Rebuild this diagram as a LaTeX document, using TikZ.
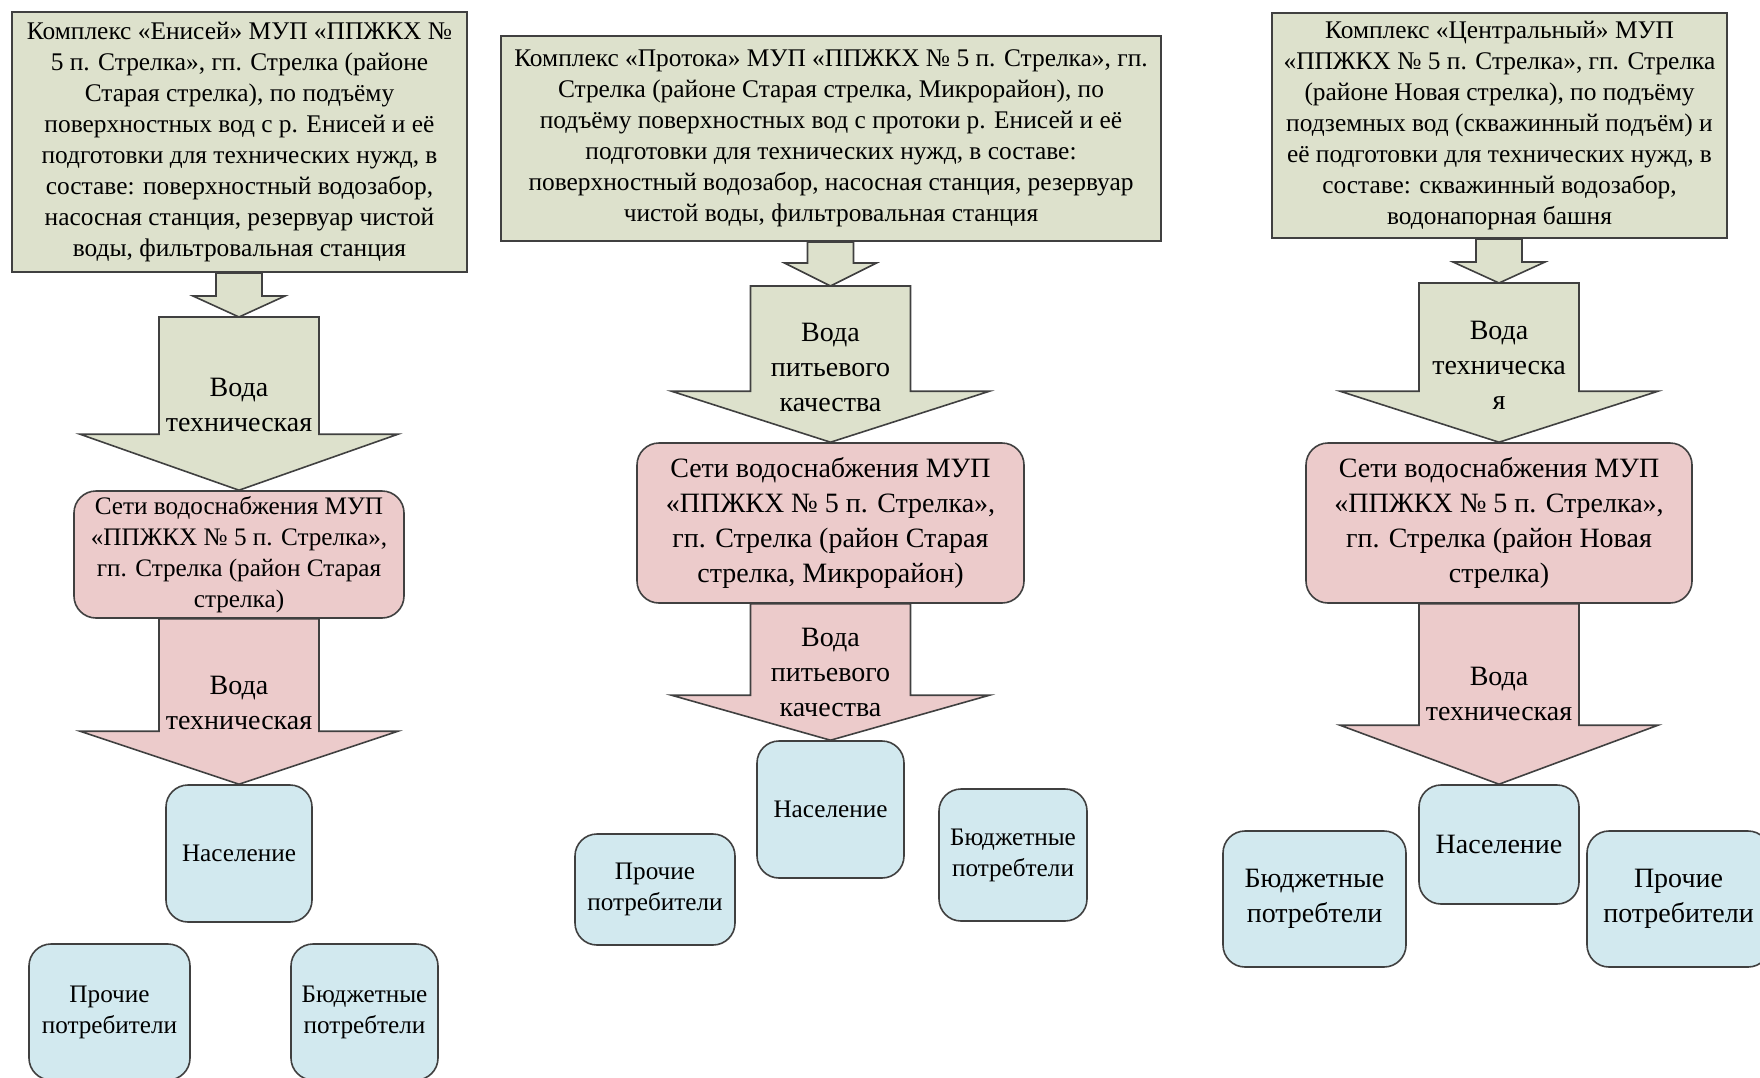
\documentclass[tikz,border=0pt]{standalone}
\usepackage{fontspec}
\setmainfont{Liberation Serif}
\usetikzlibrary{calc}
\definecolor{srcfill}{RGB}{221,225,204}
\definecolor{netfill}{RGB}{236,203,203}
\definecolor{userfill}{RGB}{210,233,239}
\definecolor{edge}{RGB}{64,64,64}
\tikzstyle{srcbox}=[rectangle,draw=edge,fill=srcfill,line width=1pt,inner sep=0pt,align=center,font=\fontsize{12.7}{15.5}\selectfont]
\tikzstyle{netbox}=[rectangle,rounded corners=11pt,draw=edge,fill=netfill,line width=0.8pt,inner sep=0pt,align=center]
\tikzstyle{userbox}=[rectangle,rounded corners=11pt,draw=edge,fill=userfill,line width=0.8pt,inner sep=0pt,align=center]
\tikzstyle{greenarrow}=[draw=edge,fill=srcfill,line width=0.8pt,line join=miter]
\tikzstyle{pinkarrow}=[draw=edge,fill=netfill,line width=0.8pt,line join=miter]
\tikzstyle{flowtext}=[align=center,inner sep=0pt,font=\fontsize{14}{17.5}\selectfont]
\tikzstyle{smalltext}=[font=\fontsize{12.6}{15.5}\selectfont]
\tikzstyle{bigtext}=[font=\fontsize{14}{17.5}\selectfont]
% block arrow: style, from, to, half shaft, half head, head length
\newcommand{\blockarrow}[6]{%
  \filldraw[#1] let \p1=(#2), \p2=(#3) in
    (\x2-#4,\y1) -- (\x2+#4,\y1) -- (\x2+#4,\y2+#6) -- (\x2+#5,\y2+#6)
    -- (\x2,\y2) -- (\x2-#5,\y2+#6) -- (\x2-#4,\y2+#6) -- cycle;}

\begin{document}
\begin{tikzpicture}[x=0.5pt,y=-0.5pt]
    \useasboundingbox (0,0) rectangle (1760,1077);
    % sources
    \node[srcbox,minimum width=227.5pt,minimum height=130pt] at (239.5,142) (src1) {Комплекс «Енисей» МУП «ППЖКХ №\\5 п. Стрелка», гп. Стрелка (районе\\Старая стрелка), по подъёму\\поверхностных вод с р. Енисей и её\\подготовки для технических нужд, в\\составе: поверхностный водозабор,\\насосная станция, резервуар чистой\\воды, фильтровальная станция};
    \node[srcbox,minimum width=330pt,minimum height=102.5pt] at (831,138.5) (src2) {Комплекс «Протока» МУП «ППЖКХ № 5 п. Стрелка», гп.\\Стрелка (районе Старая стрелка, Микрорайон), по\\подъёму поверхностных вод с протоки р. Енисей и её\\подготовки для технических нужд, в составе:\\поверхностный водозабор, насосная станция, резервуар\\чистой воды, фильтровальная станция};
    \node[srcbox,minimum width=227.5pt,minimum height=112.5pt] at (1499.5,125.5) (src3) {Комплекс «Центральный» МУП\\«ППЖКХ № 5 п. Стрелка», гп. Стрелка\\(районе Новая стрелка), по подъёму\\подземных вод (скважинный подъём) и\\её подготовки для технических нужд, в\\составе: скважинный водозабор,\\водонапорная башня};
    \coordinate (j1) at (239,317);
    \coordinate (j2) at (830.5,286);
    \coordinate (j3) at (1499,283);
    % networks
    \node[netbox,smalltext,minimum width=165pt,minimum height=63.5pt] at (239,554.5) (net1) {Сети водоснабжения МУП\\«ППЖКХ № 5 п. Стрелка»,\\гп. Стрелка (район Старая\\стрелка)};
    \node[netbox,bigtext,minimum width=193.5pt,minimum height=80pt] at (830.5,523) (net2) {Сети водоснабжения МУП\\«ППЖКХ № 5 п. Стрелка»,\\гп. Стрелка (район Старая\\стрелка, Микрорайон)};
    \node[netbox,bigtext,minimum width=193pt,minimum height=80pt] at (1499,523) (net3) {Сети водоснабжения МУП\\«ППЖКХ № 5 п. Стрелка»,\\гп. Стрелка (район Новая\\стрелка)};
    % consumers
    \node[userbox,smalltext,minimum width=73pt,minimum height=68.5pt] at (239,853.5) (pop1) {Население};
    \node[userbox,smalltext,minimum width=80.5pt,minimum height=68pt] at (109.5,1012) (oth1) {Прочие\\потребители};
    \node[userbox,smalltext,minimum width=73.5pt,minimum height=68pt] at (364.5,1012) (bud1) {Бюджетные\\потребтели};
    \node[userbox,smalltext,minimum width=73.5pt,minimum height=68.5pt] at (830.5,809.5) (pop2) {Население};
    \node[userbox,smalltext,minimum width=80pt,minimum height=55.5pt] at (655,889.5) (oth2) {Прочие\\потребители};
    \node[userbox,smalltext,minimum width=74pt,minimum height=66pt] at (1013,855) (bud2) {Бюджетные\\потребтели};
    \node[userbox,bigtext,minimum width=80pt,minimum height=59.5pt] at (1499,844.5) (pop3) {Население};
    \node[userbox,bigtext,minimum width=91.5pt,minimum height=68pt] at (1314.5,899) (bud3) {Бюджетные\\потребтели};
    \node[userbox,bigtext,minimum width=91.5pt,minimum height=68pt] at (1678.5,899) (oth3) {Прочие\\потребители};
    % arrows
    \blockarrow{greenarrow}{src1.south}{j1}{11.5pt}{23pt}{10.5pt}
    \blockarrow{greenarrow}{src2.south}{j2}{11.5pt}{23pt}{11.5pt}
    \blockarrow{greenarrow}{src3.south}{j3}{11.5pt}{23pt}{10.5pt}
    \blockarrow{greenarrow}{j1}{net1.north}{40pt}{79.5pt}{28pt}
    \blockarrow{greenarrow}{j2}{net2.north}{40pt}{79.5pt}{25.5pt}
    \blockarrow{greenarrow}{j3}{net3.north}{40pt}{79.5pt}{25.5pt}
    \blockarrow{pinkarrow}{net1.south}{pop1.north}{40pt}{79.5pt}{26.5pt}
    \blockarrow{pinkarrow}{net2.south}{pop2.north}{40pt}{79.5pt}{22.5pt}
    \blockarrow{pinkarrow}{net3.south}{pop3.north}{40pt}{79.5pt}{29.5pt}
    \node[flowtext] at (239,404.5) (ft1a) {Вода\\техническая};
    \node[flowtext] at (239,702.5) (ft1b) {Вода\\техническая};
    \node[flowtext] at (830.5,367) (ft2a) {Вода\\питьевого\\качества};
    \node[flowtext] at (830.5,672.5) (ft2b) {Вода\\питьевого\\качества};
    \node[flowtext] at (1499,365.5) (ft3a) {Вода\\техническа\\я};
    \node[flowtext] at (1499,694) (ft3b) {Вода\\техническая};
\end{tikzpicture}
\end{document}
